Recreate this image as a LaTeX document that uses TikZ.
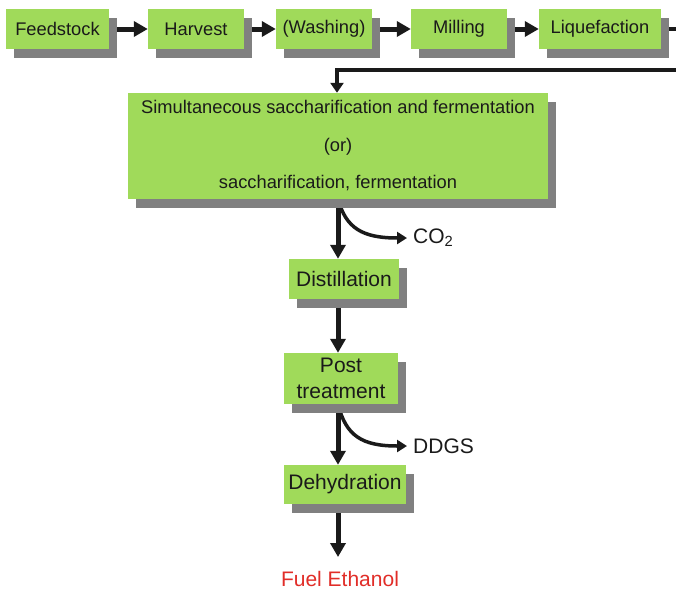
\documentclass[tikz,border=0pt]{standalone}
\usepackage{fontspec}
\setmainfont{Liberation Sans}
\usetikzlibrary{arrows.meta,shadows,backgrounds,calc}
\definecolor{boxgreen}{RGB}{160,218,90}
\definecolor{shadowgray}{RGB}{128,128,128}
\definecolor{txt}{RGB}{26,26,26}
\definecolor{fuelred}{RGB}{225,45,40}
\begin{document}
\begin{tikzpicture}[x=1pt,y=-1pt,
  procbox/.style={fill=boxgreen, text=txt, inner sep=0pt, align=center,
    drop shadow={shadow xshift=8pt, shadow yshift=-9pt, fill=shadowgray, opacity=1}},
  smallfont/.style={font=\fontsize{18.3}{22}\selectfont},
  bigfont/.style={font=\fontsize{21}{26}\selectfont},
  flow/.style={line width=5pt, draw=txt, -{Triangle[length=14pt,width=15pt]}},
  longflow/.style={line width=4.5pt, draw=txt, -{Triangle[length=10pt,width=13pt]}},
  sideflow/.style={line width=3.5pt, draw=txt, -{Triangle[length=10pt,width=12pt]}},
  lbl/.style={text=txt, inner ysep=0pt, inner xsep=6pt, anchor=west, font=\fontsize{21}{26}\selectfont}]
\useasboundingbox (0,0) rectangle (676,589);
% top row
\node[procbox, smallfont, minimum width=103pt, minimum height=40pt] (feed) at (57.5,29) {Feedstock};
\node[procbox, smallfont, minimum width=96pt, minimum height=40pt] (harv) at (196,29) {Harvest};
\node[procbox, smallfont, minimum width=96pt, minimum height=40pt] (wash) at (324,29) {(Washing)};
\node[procbox, smallfont, minimum width=96pt, minimum height=40pt] (mill) at (459,29) {Milling};
\node[procbox, smallfont, minimum width=122pt, minimum height=40pt] (liq) at (600,29) {Liquefaction};
% SSF
\node[procbox, font=\fontsize{18.3}{37.5}\selectfont, minimum width=420pt, minimum height=106pt] (ssf) at (338,146)
  {Simultanecous saccharification and fermentation\\(or)\\saccharification, fermentation};
% column
\node[procbox, bigfont, minimum width=110pt, minimum height=40pt] (dist) at (344,279) {Distillation};
\node[procbox, bigfont, minimum width=114pt, minimum height=51pt] (post) at (341,378.5) {Post\\treatment};
\node[procbox, bigfont, minimum width=122pt, minimum height=39pt] (dehy) at (345,484.5) {Dehydration};
\node[lbl] (co2) at (407,238) {CO\textsubscript{2}};
\node[lbl] (ddgs) at (407,446) {DDGS};
\node[inner sep=0pt, anchor=base, text=fuelred, font=\fontsize{21}{26}\selectfont] (fuel) at (340,586) {Fuel Ethanol};
\coordinate (rc1) at (690,29);
\coordinate (rc2) at (690,70);
\coordinate (lc) at (337,70);
\coordinate (fueltip) at (338,557);
\begin{scope}[on background layer]
\draw[flow] (feed.east) -- (harv.west);
\draw[flow] (harv.east) -- (wash.west);
\draw[flow] (wash.east) -- (mill.west);
\draw[flow] (mill.east) -- (liq.west);
\draw[longflow] (liq.east) -- (rc1) -- (rc2) -- (lc) -- (lc |- ssf.north);
\draw[flow] (ssf.south) -- (ssf.south |- dist.north);
\draw[flow] (ssf.south |- dist.south) -- (ssf.south |- post.north);
\draw[flow] (ssf.south |- post.south) -- (ssf.south |- dehy.north);
\draw[flow] (ssf.south |- dehy.south) -- (fueltip);
\draw[sideflow] (ssf.south) .. controls (346,228) and (362,238) .. (co2.west);
\draw[sideflow] (ssf.south |- post.south) .. controls (346,436) and (362,446) .. (ddgs.west);
\end{scope}
\end{tikzpicture}
\end{document}
